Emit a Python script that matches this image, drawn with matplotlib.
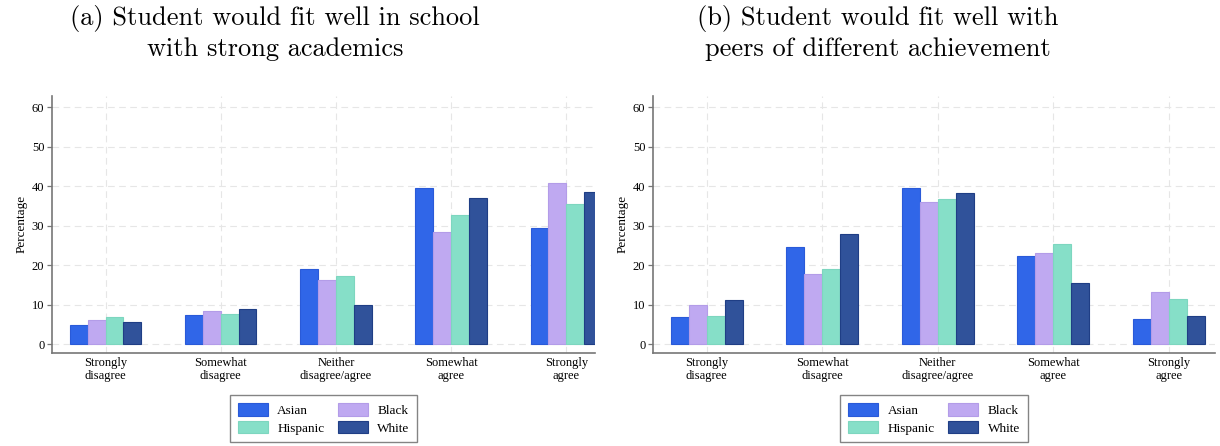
import matplotlib
matplotlib.use("Agg")
import matplotlib.pyplot as plt
import numpy as np

categories = ["Strongly\ndisagree", "Somewhat\ndisagree", "Neither\ndisagree/agree",
              "Somewhat\nagree", "Strongly\nagree"]
groups = ["Asian", "Black", "Hispanic", "White"]

# Panel (a): fit well in school with strong academics
a_asian = [4.8, 7.4, 19.1, 39.4, 29.3]
a_black = [6.0, 8.3, 16.3, 28.4, 40.9]
a_hispanic = [6.8, 7.6, 17.3, 32.6, 35.6]
a_white = [5.7, 9.0, 9.8, 36.9, 38.6]

# Panel (b): fit well with peers of different achievement
b_asian = [7.0, 24.5, 39.6, 22.2, 6.4]
b_black = [9.8, 17.8, 36.0, 23.1, 13.2]
b_hispanic = [7.2, 19.0, 36.8, 25.3, 11.5]
b_white = [11.1, 27.8, 38.2, 15.5, 7.2]

titles = ["(a) Student would fit well in school\nwith strong academics",
          "(b) Student would fit well with\npeers of different achievement"]
yticks = [0, 10, 20, 30, 40, 50, 60]

colors = {"Asian": "#3066e8", "Black": "#bfa9f1", "Hispanic": "#86dfc8", "White": "#30529a"}
edges = {"Asian": "#2a5ad8", "Black": "#b39ce8", "Hispanic": "#7dd6bf", "White": "#1f3e85"}

serif = ["Liberation Serif", "DejaVu Serif"]
plt.rcParams["font.family"] = serif

fig = plt.figure(figsize=(12.2, 4.46), dpi=100)
ax_a = fig.add_axes([52 / 1220, 1 - 352.5 / 446, (595 - 52) / 1220, (352.5 - 96) / 446])
ax_b = fig.add_axes([653 / 1220, 1 - 352.5 / 446, (1215 - 653) / 1220, (352.5 - 96) / 446])

panels = [
    (ax_a, [a_asian, a_black, a_hispanic, a_white], 4.25),
    (ax_b, [b_asian, b_black, b_hispanic, b_white], 4.40),
]

bw = 0.155
x = np.arange(len(categories))
for ax, series, xr in panels:
    for i, (g, vals) in enumerate(zip(groups, series)):
        off = (i - 1.5) * bw
        ax.bar(x + off, vals, width=bw, color=colors[g], edgecolor=edges[g],
               linewidth=0.8, label=g, zorder=3)
    ax.set_xlim(-0.465, xr)
    ax.set_ylim(-2.1, 62.8)
    ax.set_yticks(yticks)
    ax.set_xticks(x)
    ax.set_xticklabels(categories, fontsize=9, linespacing=1.2)
    ax.tick_params(axis="x", length=0, pad=3)
    ax.tick_params(axis="y", length=3.5, width=0.9, color="#777777", labelsize=9, pad=2)
    ax.set_ylabel("Percentage", fontsize=9.5, labelpad=3)
    for s in ["top", "right"]:
        ax.spines[s].set_visible(False)
    for s in ["left", "bottom"]:
        ax.spines[s].set_color("#777777")
        ax.spines[s].set_linewidth(1.2)
    ax.grid(True, axis="both", color="#e6e6e6", linestyle=(0, (6, 4)), linewidth=0.8, zorder=0)
    ax.set_axisbelow(True)
    h, l = ax.get_legend_handles_labels()
    order = [0, 2, 1, 3]
    leg = ax.legend([h[k] for k in order], [l[k] for k in order], ncol=2,
                    loc="upper center", bbox_to_anchor=(0.5, -0.14),
                    fontsize=9.5, frameon=True, fancybox=False, edgecolor="#666666",
                    handlelength=2.3, handleheight=1.1, columnspacing=1.0,
                    handletextpad=0.7, labelspacing=0.3, borderpad=0.6)
    leg.get_frame().set_linewidth(1.0)

fig.text(275 / 1220, 1 - 33 / 446, titles[0], ha="center", va="center",
         fontsize=19, family=["cmr10", "DejaVu Serif"], linespacing=1.3)
fig.text(878 / 1220, 1 - 33 / 446, titles[1], ha="center", va="center",
         fontsize=19, family=["cmr10", "DejaVu Serif"], linespacing=1.3)

fig.savefig("out.png", dpi=100)
